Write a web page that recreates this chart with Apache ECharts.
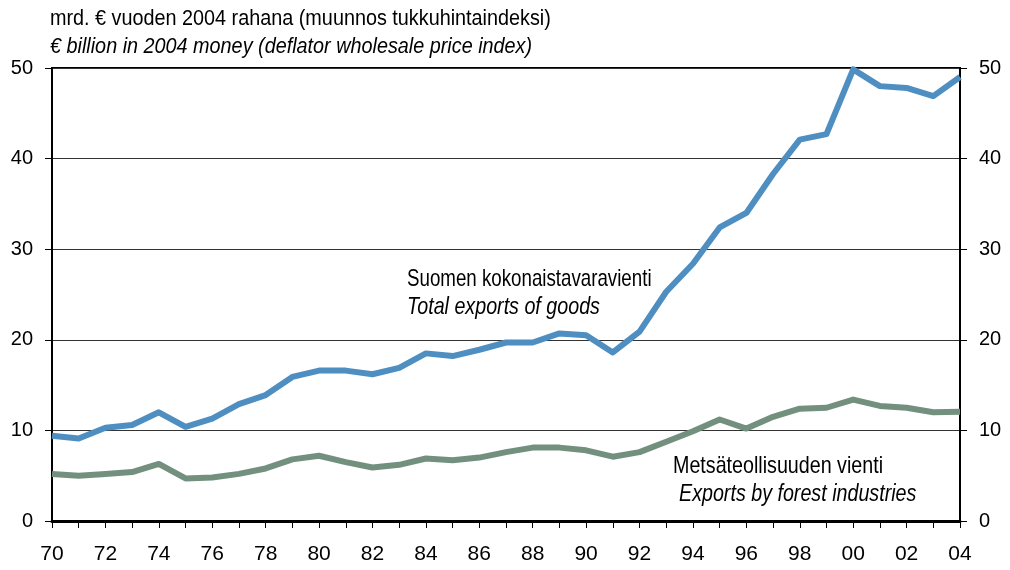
<!DOCTYPE html>
<html>
<head>
<meta charset="utf-8">
<script src="https://cdn.jsdelivr.net/npm/echarts@6/dist/echarts.min.js"></script>
<style>
  html, body { margin: 0; padding: 0; background: #fff; }
  #chart { width: 1010px; height: 570px; }
</style>
</head>
<body>
<div id="chart"></div>
<script>
// Years 1970–2004, labelled with two digits
const years = ['70','71','72','73','74','75','76','77','78','79',
               '80','81','82','83','84','85','86','87','88','89',
               '90','91','92','93','94','95','96','97','98','99',
               '00','01','02','03','04'];

// Total exports of goods, € billion in 2004 money
const totalExports = [9.4, 9.1, 10.3, 10.6, 12.0, 10.4, 11.3, 12.9, 13.9, 15.9,
                      16.6, 16.6, 16.2, 16.9, 18.5, 18.2, 18.9, 19.7, 19.7, 20.7,
                      20.5, 18.6, 20.9, 25.3, 28.4, 32.4, 34.0, 38.3, 42.1, 42.7,
                      49.85, 48.0, 47.8, 46.9, 49.0];

// Exports by forest industries, € billion in 2004 money
const forestExports = [5.2, 5.0, 5.2, 5.4, 6.3, 4.7, 4.8, 5.2, 5.8, 6.8,
                       7.2, 6.5, 5.9, 6.2, 6.9, 6.7, 7.0, 7.6, 8.1, 8.1,
                       7.8, 7.1, 7.6, 8.75, 9.9, 11.2, 10.2, 11.5, 12.4, 12.5,
                       13.4, 12.7, 12.5, 12.0, 12.05];

const yMin = 0, yMax = 50, yStep = 10;

const FONT = '"Liberation Sans", Arial, sans-serif';

const chart = echarts.init(document.getElementById('chart'), null, { renderer: 'canvas' });

function yAxisDef(pos, showSplit) {
  return {
    type: 'value',
    position: pos,
    min: yMin, max: yMax, interval: yStep,
    axisLine: { show: true, lineStyle: { color: '#000', width: 2 } },
    axisTick: { show: true, inside: false, length: 7, lineStyle: { color: '#000', width: 1 } },
    axisLabel: { color: '#000', fontFamily: FONT, fontSize: 20, margin: 19 },
    splitLine: { show: showSplit, lineStyle: { color: '#333', width: 1 } }
  };
}

// Condensed text block drawn at a fixed spot inside the chart
function annotation(x, y, text, italic, size, sx) {
  return {
    type: 'text', left: x, top: y, scaleX: sx, originX: 0,
    style: { text: text, fill: '#000', font: (italic ? 'italic ' : '') + size + 'px ' + FONT }
  };
}

chart.setOption({
  animation: false,
  grid: { left: 52, right: 50, top: 68, bottom: 49, show: true, borderColor: '#000', borderWidth: 2, backgroundColor: 'transparent' },
  xAxis: {
    type: 'category',
    data: years,
    boundaryGap: false,
    axisLine: { show: true, lineStyle: { color: '#000', width: 3 } },
    axisTick: { show: true, interval: 0, length: 7, lineStyle: { color: '#000', width: 1 } },
    axisLabel: { interval: 1, color: '#000', fontFamily: FONT, fontSize: 21, margin: 23 },
    splitLine: { show: false }
  },
  yAxis: [yAxisDef('left', true), yAxisDef('right', false)],
  series: [
    {
      name: 'Suomen kokonaistavaravienti',
      type: 'line', data: totalExports, yAxisIndex: 0,
      showSymbol: false, smooth: false,
      lineStyle: { color: '#4E8EC1', width: 6, join: 'round' }
    },
    {
      name: 'Metsäteollisuuden vienti',
      type: 'line', data: forestExports, yAxisIndex: 0,
      showSymbol: false, smooth: false,
      lineStyle: { color: '#73907F', width: 6, join: 'round' }
    }
  ],
  graphic: [
    annotation(50, 8, 'mrd. € vuoden 2004 rahana (muunnos tukkuhintaindeksi)', false, 22, 0.9),
    annotation(50, 36, '€ billion in 2004 money (deflator wholesale price index)', true, 22, 0.9),
    annotation(407, 267, 'Suomen kokonaistavaravienti', false, 24, 0.78),
    annotation(407, 295, 'Total exports of goods', true, 24, 0.82),
    annotation(673, 454, 'Metsäteollisuuden vienti', false, 24, 0.82),
    annotation(679, 482, 'Exports by forest industries', true, 24, 0.82)
  ]
});
</script>
</body>
</html>
